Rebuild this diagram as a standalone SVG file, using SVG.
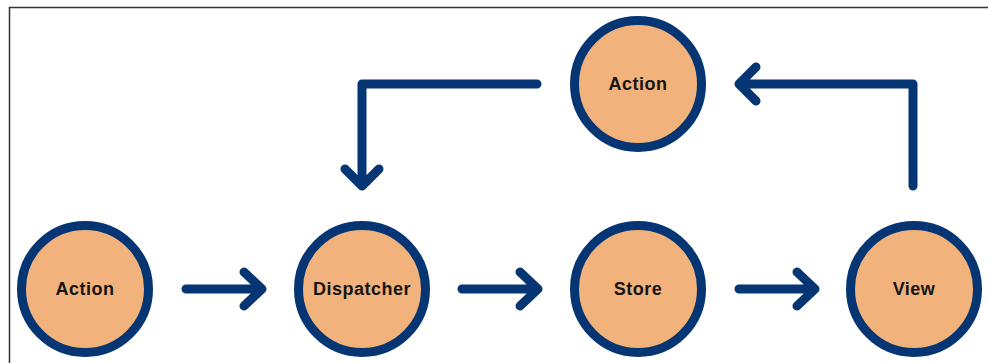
<svg xmlns="http://www.w3.org/2000/svg" width="988" height="363" viewBox="0 0 988 363">
<defs>
<style>
.node circle{fill:#F2B27B;stroke:#063574;stroke-width:9}
.node text{font-family:"Liberation Sans",Arial,sans-serif;font-weight:700;font-size:18px;letter-spacing:0.5px;fill:#151515;text-anchor:middle;dominant-baseline:central}
.conn path{fill:none;stroke:#063574;stroke-width:9;stroke-linecap:round;stroke-linejoin:round}
</style>
</defs>
<rect width="988" height="363" fill="#ffffff"/>
<path d="M9.5 363 V7.5 H988" fill="none" stroke="#333" stroke-width="1.5"/>
<g class="conn">
<path d="M186 289 H262 M244 272 L262 289 L244 306"/>
<path d="M462 289 H538 M520 272 L538 289 L520 306"/>
<path d="M739 289 H815 M797 272 L815 289 L797 306"/>
<path d="M537 84 H362 V186 M345 169 L362 186 L379 169"/>
<path d="M913 186 V84 H739 M756 67 L739 84 L756 101"/>
</g>
<g id="node-action-top" class="node"><circle cx="638" cy="84" r="63.5"/><text x="638" y="84">Action</text></g>
<g id="node-action" class="node"><circle cx="85" cy="289" r="63.5"/><text x="85" y="289">Action</text></g>
<g id="node-dispatcher" class="node"><circle cx="362" cy="289" r="63.5"/><text x="362" y="289">Dispatcher</text></g>
<g id="node-store" class="node"><circle cx="638" cy="289" r="63.5"/><text x="638" y="289">Store</text></g>
<g id="node-view" class="node"><circle cx="914" cy="289" r="63.5"/><text x="914" y="289">View</text></g>
</svg>
